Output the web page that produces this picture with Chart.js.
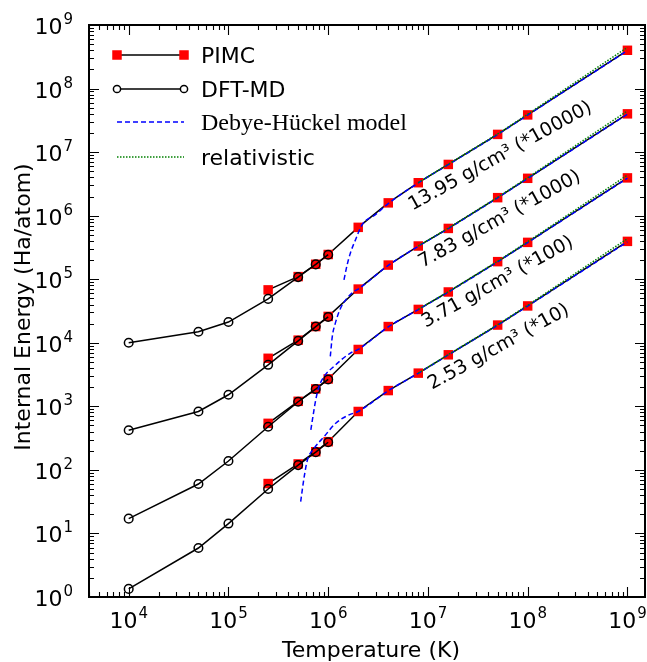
<!DOCTYPE html>
<html>
<head>
<meta charset="utf-8">
<script src="https://cdn.jsdelivr.net/npm/chart.js@4.4.1/dist/chart.umd.min.js"></script>
<style>
  body { margin: 0; background: #fff; }
</style>
</head>
<body>
<canvas id="energyChart" width="647" height="662"></canvas>
<script>
// temperatures (K)
const dftTemps = [1e4, 5e4, 1e5, 2.5e5, 5e5, 7.5e5, 1e6];
const pimcTemps = [2.5e5, 5e5, 7.5e5, 1e6, 2e6, 4e6, 8e6, 1.6e7, 5e7, 1e8, 1e9];
const relTemps = [8e6, 1.6e7, 5e7, 1e8, 1e9];

// densities, top curve first (energies already multiplied by the factor)
const densities = ['13.95', '7.83', '3.71', '2.53'];
const factors = ['*10000', '*1000', '*100', '*10'];

// PIMC internal energy (Ha/atom)
const pimc13 = [6.8e4, 1.1e5, 1.72e5, 2.45e5, 6.55e5, 1.59e6, 3.3e6, 6.4e6, 1.9e7, 3.85e7, 4.0e8];
const pimc7 = [5.7e3, 1.1e4, 1.8e4, 2.6e4, 7.0e4, 1.67e5, 3.33e5, 6.3e5, 1.92e6, 3.87e6, 4.0e7];
const pimc3 = [5.4e2, 1.2e3, 1.88e3, 2.7e3, 7.85e3, 1.8e4, 3.35e4, 6.3e4, 1.89e5, 3.8e5, 3.93e6];
const pimc2 = [61, 124, 193, 278, 830, 1.77e3, 3.33e3, 6.47e3, 1.9e4, 3.8e4, 3.94e5];

// DFT-MD internal energy
const dft13 = [1.0e4, 1.49e4, 2.12e4, 4.9e4, 1.08e5, 1.71e5, 2.43e5];
const dft7 = [420, 830, 1.52e3, 4.5e3, 1.07e4, 1.8e4, 2.55e4];
const dft3 = [17.1, 60, 138, 478, 1.18e3, 1.87e3, 2.65e3];
const dft2 = [1.34, 5.9, 14.3, 50, 119, 190, 272];

// Debye-Hueckel model
const dhTemps13 = [1.44e6, 1.55e6, 1.67e6, 1.88e6, 2.19e6, 3e6, 4e6, 8e6, 1.6e7, 5e7, 1e8, 1e9];
const dh13 = [9.8e4, 1.69e5, 2.59e5, 4.19e5, 7.2e5, 1.05e6, 1.55e6, 3.27e6, 6.35e6, 1.89e7, 3.83e7, 3.95e8];
const dhTemps7 = [1.05e6, 1.1e6, 1.18e6, 1.33e6, 1.55e6, 1.81e6, 2e6, 4e6, 8e6, 1.6e7, 5e7, 1e8, 1e9];
const dh7 = [6.1e3, 1.26e4, 2.04e4, 3.5e4, 5.06e4, 6.43e4, 7.0e4, 1.65e5, 3.3e5, 6.27e5, 1.91e6, 3.85e6, 3.95e7];
const dhTemps3 = [6.7e5, 7.5e5, 8.1e5, 9.1e5, 1.14e6, 1.67e6, 2e6, 4e6, 8e6, 1.6e7, 5e7, 1e8, 1e9];
const dh3 = [427, 1.26e3, 2.05e3, 2.95e3, 4.24e3, 6.9e3, 7.85e3, 1.78e4, 3.33e4, 6.27e4, 1.88e5, 3.78e5, 3.88e6];
const dhTemps2 = [5.3e5, 5.75e5, 6.2e5, 7.24e5, 9.1e5, 1.19e6, 1.62e6, 2e6, 4e6, 8e6, 1.6e7, 5e7, 1e8, 1e9];
const dh2 = [31.7, 78.5, 144, 219, 334, 543, 735, 830, 1.76e3, 3.31e3, 6.44e3, 1.89e4, 3.78e4, 3.88e5];

// relativistic
const rel13 = [3.3e6, 6.45e6, 1.93e7, 3.95e7, 4.45e8];
const rel7 = [3.33e5, 6.35e5, 1.95e6, 3.97e6, 4.45e7];
const rel3 = [3.35e4, 6.35e4, 1.92e5, 3.9e5, 4.35e6];
const rel2 = [3.33e3, 6.52e3, 1.93e4, 3.9e4, 4.35e5];

// tick labels (powers of ten)
const xTickExps = [4, 5, 6, 7, 8, 9];
const yTickExps = [0, 1, 2, 3, 4, 5, 6, 7, 8, 9];

// where the density labels start (data units)
const labelTemps = [7.0e6, 8.8e6, 9.5e6, 1.1e7];
const labelEnergies = [1.2e6, 1.5e5, 1.72e4, 1.82e3];

const sans = '"DejaVu Sans", sans-serif';
const serif = '"Liberation Serif", serif';

function pts(xs, ys) {
    return xs.map((t, i) => ({ x: t, y: ys[i] }));
}

function pimcSet(ys) {
    return { data: pts(pimcTemps, ys), borderColor: '#000', borderWidth: 1.5, pointStyle: 'rect',
        pointRadius: 6.7, pointBackgroundColor: '#ff0000', pointBorderWidth: 0, order: 4 };
}
function dftSet(ys) {
    return { data: pts(dftTemps, ys), borderColor: '#000', borderWidth: 1.5, pointStyle: 'circle',
        pointRadius: 4.3, pointBackgroundColor: 'rgba(0,0,0,0)', pointBorderColor: '#000',
        pointBorderWidth: 1.5, order: 3 };
}
function dhSet(xs, ys) {
    return { data: pts(xs, ys), borderColor: '#0000ff', borderWidth: 1.5, borderDash: [5, 3],
        pointRadius: 0, cubicInterpolationMode: 'monotone', order: 2 };
}
function relSet(ys) {
    return { data: pts(relTemps, ys), borderColor: '#008000', borderWidth: 1.5, borderDash: [1.5, 1.5],
        pointRadius: 0, order: 1 };
}

const datasets = [
    pimcSet(pimc13), pimcSet(pimc7), pimcSet(pimc3), pimcSet(pimc2),
    dftSet(dft13), dftSet(dft7), dftSet(dft3), dftSet(dft2),
    dhSet(dhTemps13, dh13), dhSet(dhTemps7, dh7), dhSet(dhTemps3, dh3), dhSet(dhTemps2, dh2),
    relSet(rel13), relSet(rel7), relSet(rel3), relSet(rel2)
];

// "10" with a raised exponent
function powLabel(ctx, exp, x, y, align) {
    ctx.font = '22px ' + sans;
    const wb = ctx.measureText('10').width;
    ctx.font = '15px ' + sans;
    const we = ctx.measureText(String(exp)).width;
    const x0 = align === 'center' ? x - (wb + we + 1) / 2 : x - (wb + we + 1);
    ctx.textAlign = 'left';
    ctx.textBaseline = 'alphabetic';
    ctx.font = '22px ' + sans;
    ctx.fillText('10', x0, y);
    ctx.font = '15px ' + sans;
    ctx.fillText(String(exp), x0 + wb + 1, y - 10);
}

// frame, inward ticks, labels, legend and density notes
const decorPlugin = {
    id: 'decor',
    afterDraw(chart) {
        const { ctx, chartArea: a, scales: { x, y } } = chart;
        ctx.save();
        ctx.fillStyle = '#000';
        ctx.strokeStyle = '#000';

        // ticks
        ctx.lineWidth = 1.1;
        for (let n = 3; n <= 9; n++) {
            for (let k = 1; k <= 9; k++) {
                const v = k * Math.pow(10, n);
                if (v < x.min || v > x.max) continue;
                const px = Math.round(x.getPixelForValue(v)) + 0.5;
                const len = k === 1 ? 10 : 5;
                ctx.beginPath();
                ctx.moveTo(px, a.bottom); ctx.lineTo(px, a.bottom - len);
                ctx.moveTo(px, a.top); ctx.lineTo(px, a.top + len);
                ctx.stroke();
            }
        }
        for (let n = 0; n <= 9; n++) {
            for (let k = 1; k <= 9; k++) {
                const v = k * Math.pow(10, n);
                if (v < y.min || v > y.max) continue;
                const py = Math.round(y.getPixelForValue(v)) + 0.5;
                const len = k === 1 ? 10 : 5;
                ctx.beginPath();
                ctx.moveTo(a.left, py); ctx.lineTo(a.left + len, py);
                ctx.moveTo(a.right, py); ctx.lineTo(a.right - len, py);
                ctx.stroke();
            }
        }

        // frame
        ctx.lineWidth = 2;
        ctx.strokeRect(a.left, a.top, a.right - a.left, a.bottom - a.top);

        // tick labels
        xTickExps.forEach(e => powLabel(ctx, e, x.getPixelForValue(Math.pow(10, e)), 628, 'center'));
        yTickExps.forEach(e => powLabel(ctx, e, 73, y.getPixelForValue(Math.pow(10, e)) + 9, 'right'));

        // axis titles
        ctx.font = '22px ' + sans;
        ctx.textAlign = 'center';
        ctx.textBaseline = 'alphabetic';
        ctx.fillText('Temperature (K)', 371, 657);
        ctx.save();
        ctx.translate(30, 307);
        ctx.rotate(-Math.PI / 2);
        ctx.fillText('Internal Energy (Ha/atom)', 0, 0);
        ctx.restore();

        // legend
        const lx0 = 117, lx1 = 184, tx = 201;
        const rows = [55, 89, 122, 157];
        ctx.lineWidth = 1.5;
        ctx.strokeStyle = '#000';
        ctx.setLineDash([]);
        ctx.beginPath(); ctx.moveTo(lx0, rows[0]); ctx.lineTo(lx1, rows[0]); ctx.stroke();
        ctx.fillStyle = '#ff0000';
        [lx0, lx1].forEach(px => ctx.fillRect(px - 4.75, rows[0] - 4.75, 9.5, 9.5));
        ctx.beginPath(); ctx.moveTo(lx0, rows[1]); ctx.lineTo(lx1, rows[1]); ctx.stroke();
        ctx.fillStyle = '#fff';
        [lx0, lx1].forEach(px => {
            ctx.beginPath(); ctx.arc(px, rows[1], 3.6, 0, Math.PI * 2); ctx.fill(); ctx.stroke();
        });
        ctx.strokeStyle = '#0000ff';
        ctx.setLineDash([5, 3]);
        ctx.beginPath(); ctx.moveTo(lx0, rows[2]); ctx.lineTo(lx1, rows[2]); ctx.stroke();
        ctx.strokeStyle = '#008000';
        ctx.setLineDash([1.5, 1.5]);
        ctx.beginPath(); ctx.moveTo(lx0, rows[3]); ctx.lineTo(lx1, rows[3]); ctx.stroke();
        ctx.setLineDash([]);

        ctx.fillStyle = '#000';
        ctx.textAlign = 'left';
        ctx.textBaseline = 'alphabetic';
        ctx.font = '22px ' + sans;
        ctx.fillText('PIMC', tx, rows[0] + 8);
        ctx.fillText('DFT-MD', tx, rows[1] + 8);
        ctx.fillText('relativistic', tx, rows[3] + 8);
        ctx.font = '24px ' + serif;
        ctx.fillText('Debye-Hückel model', tx, rows[2] + 8);

        // density labels along the curves
        ctx.font = '19px ' + sans;
        densities.forEach((d, i) => {
            ctx.save();
            ctx.translate(x.getPixelForValue(labelTemps[i]), y.getPixelForValue(labelEnergies[i]));
            ctx.rotate(-29 * Math.PI / 180);
            ctx.fillText(d + ' g/cm³ (' + factors[i] + ')', 0, 0);
            ctx.restore();
        });
        ctx.restore();
    }
};

document.addEventListener('DOMContentLoaded', () => {
    const ctx = document.getElementById('energyChart').getContext('2d');
    new Chart(ctx, {
        type: 'line',
        data: { datasets },
        options: {
            responsive: false,
            animation: false,
            devicePixelRatio: 1,
            layout: { padding: { top: 25, right: 2, bottom: 0, left: 0 }, autoPadding: false },
            plugins: { legend: { display: false }, tooltip: { enabled: false } },
            scales: {
                x: {
                    type: 'logarithmic', min: 4e3, max: 1.5e9, bounds: 'data',
                    grid: { display: false }, border: { display: false },
                    ticks: { display: false },
                    afterFit: (scale) => { scale.height = 65; }
                },
                y: {
                    type: 'logarithmic', min: 1, max: 1e9, bounds: 'data',
                    grid: { display: false }, border: { display: false },
                    ticks: { display: false },
                    afterFit: (scale) => { scale.width = 89; }
                }
            }
        },
        plugins: [decorPlugin]
    });
});
</script>
</body>
</html>
